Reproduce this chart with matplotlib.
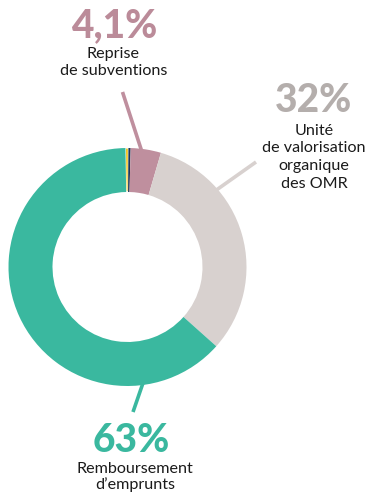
import matplotlib
matplotlib.use("Agg")
import matplotlib.pyplot as plt

# Budget shares (percent), drawn clockwise from the top
categories = ["Autre A", "Autre B", "Reprise de subventions",
              "Unité de valorisation organique des OMR", "Remboursement d'emprunts"]
values = [0.4, 0.3, 4.1, 32, 63]
colors = ["#F2C21B", "#1E3557", "#BF8F9E", "#D8D1CF", "#3AB89F"]

pct_labels = ["4,1%", "32%", "63%"]
pct_colors = ["#BB8B99", "#B4AEAC", "#3AB89F"]
names = [["Reprise", "de subventions"],
         ["Unité", "de valorisation", "organique", "des OMR"],
         ["Remboursement", "d’emprunts"]]

W, H = 371, 493
fig = plt.figure(figsize=(W / 100, H / 100), dpi=100)
ax = fig.add_axes([0, 0, 1, 1])


def py(y):
    # pixel-style y (from top) to data y
    return H - y


cx, cy, R = 127.5, py(267), 119
wedges, _ = ax.pie(values, colors=colors, startangle=91, counterclock=False,
                   radius=R, center=(cx, cy),
                   wedgeprops=dict(width=44, linewidth=0))
wedges[0].set_edgecolor("white")
wedges[0].set_linewidth(0.8)

ax.set_xlim(0, W)
ax.set_ylim(0, H)
ax.set_aspect("equal")
ax.axis("off")

# leader lines
ax.plot([122.5, 142], [py(92), py(152)], color="#BF8F9E", lw=2.6, solid_capstyle="butt")
ax.plot([256, 215], [py(162), py(191)], color="#D8D1CF", lw=2.6, solid_capstyle="butt")
ax.plot([143, 133], [py(383), py(412)], color="#3AB89F", lw=2.6, solid_capstyle="butt")

num_font = dict(family="Lato", weight="black", fontsize=28)
txt_font = dict(family="Lato", fontsize=11.6, color="#1A1A1A")

label_specs = [
    # (x of number, number baseline, x of text, text baselines)
    (114, 37, 113.5, [58, 75]),
    (314, 112, 314, [135, 152.5, 170, 187.5]),
    (131.5, 452, 135, [473, 489]),
]

for (nx, nb, tx, bases), pct, pc, lines in zip(label_specs, pct_labels, pct_colors, names):
    ax.text(nx, py(nb), pct, color=pc, ha="center", va="baseline", **num_font)
    for b, line in zip(bases, lines):
        ax.text(tx, py(b), line, ha="center", va="baseline", **txt_font)

fig.savefig("out.png", dpi=100)
